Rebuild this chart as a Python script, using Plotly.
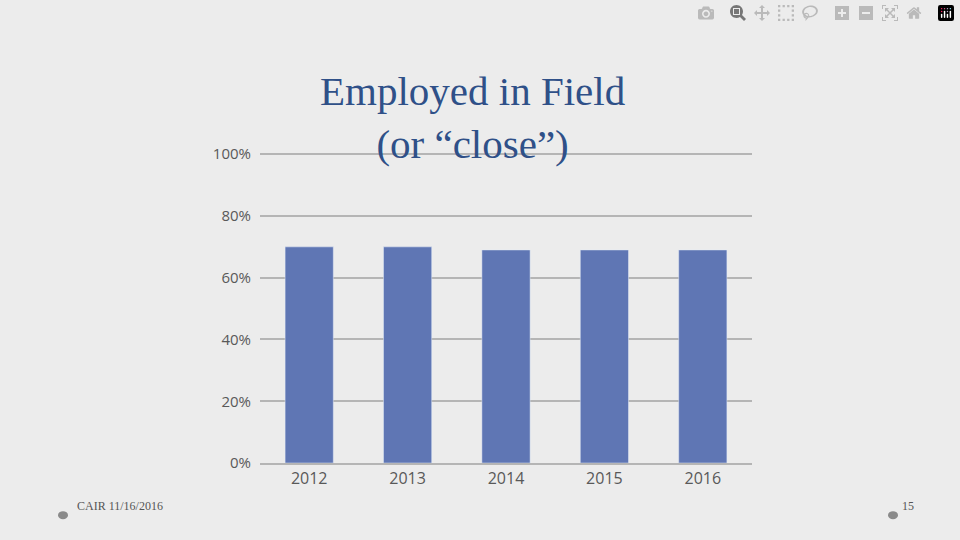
import plotly.graph_objects as go

years = ["2012", "2013", "2014", "2015", "2016"]
employed_pct = [70, 70, 69, 69, 69]
y_ticks = [0, 20, 40, 60, 80, 100]

fig = go.Figure(go.Bar(x=years, y=employed_pct, marker_color="#5f76b4", width=0.49))

fig.update_layout(
    width=960, height=540,
    margin=dict(l=260, r=208, t=153, b=77),
    paper_bgcolor="#ececec", plot_bgcolor="rgba(0,0,0,0)",
    showlegend=False,
    font=dict(family="Open Sans", color="#595959", size=15),
)
fig.update_yaxes(range=[0, 100.4], tickvals=y_ticks, ticktext=[f"{v}%" for v in y_ticks],
                 gridcolor="#b5b5b5", gridwidth=1.5, zeroline=False, ticks="",
                 ticklabelstandoff=8, showline=False)
fig.update_xaxes(showline=True, linecolor="#b5b5b5", linewidth=1.5, ticks="",
                 tickfont=dict(size=16))

fig.add_annotation(x=0.5, y=1.0, xref="paper", yref="paper", yanchor="bottom",
                   text="Employed in Field<br>(or “close”)", showarrow=False,
                   font=dict(family="Liberation Serif", size=41, color="#2f5088"),
                   xshift=-34, yshift=-16)

footer_y = (540 - 77 - 515) / 309
fig.add_annotation(x=(75 - 260) / 492, y=footer_y, xref="paper", yref="paper",
                   text="CAIR 11/16/2016", showarrow=False, xanchor="left",
                   font=dict(family="Liberation Serif", size=12, color="#555"))
fig.add_annotation(x=(900 - 260) / 492, y=footer_y, xref="paper", yref="paper",
                   text="15", showarrow=False, xanchor="left",
                   font=dict(family="Liberation Serif", size=12, color="#555"))
for px in (63, 893):
    fig.add_shape(type="circle", xref="paper", yref="paper",
                  x0=(px - 5 - 260) / 492, x1=(px + 5 - 260) / 492,
                  y0=(540 - 77 - 519) / 309, y1=(540 - 77 - 511) / 309,
                  fillcolor="#8a8a8a", line_width=0)

fig.write_html("out.html")

# drop the default body margin so the figure fills the window
with open("out.html") as f:
    page = f.read()
page = page.replace("<head>", "<head><style>body{margin:0;}</style>", 1)
with open("out.html", "w") as f:
    f.write(page)
